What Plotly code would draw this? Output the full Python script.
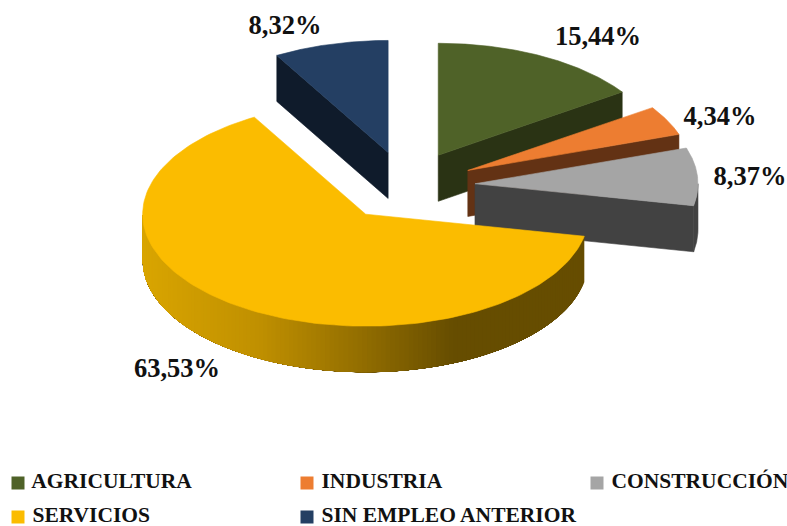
import numpy as np
import plotly.graph_objects as go

categories = ["AGRICULTURA", "INDUSTRIA", "CONSTRUCCIÓN", "SERVICIOS", "SIN EMPLEO ANTERIOR"]
values = [15.44, 4.34, 8.37, 63.53, 8.32]
top_colors = ["#4f6228", "#ed7d31", "#a5a5a5", "#fbbc00", "#243f63"]
side_colors = ["#2a3314", "#633214", "#424242", "#664d00", "#0f1b2b"]

# geometry of the projected pie (pixel space of the 787x526 page)
CX, CY, RX, RY, DEPTH, PULL = 406.0, 186.0, 223.0, 112.0, 46.0, 0.31
label_x = [598, 720, 750, 177, 285]
label_y = [38, 118, 178, 370, 27]
legend_x = [18, 307, 597, 18, 307]
legend_y = [483, 483, 483, 517, 517]
FONT = "Liberation Serif"


def arc(ax, ay, t0, t1, dy=0.0, n=80):
    t = np.linspace(t0, t1, n)
    return ax + RX * np.sin(t), ay - RY * np.cos(t) + dy


def poly(fig, xs, ys, color, lw=0.6):
    fig.add_trace(go.Scatter(x=list(xs), y=list(ys), mode="lines", fill="toself",
                             fillcolor=color, line=dict(color=color, width=lw),
                             hoverinfo="skip", showlegend=False))


def wall_color(x):
    stops_x = [140, 260, 350, 455, 590]
    r = np.interp(x, stops_x, [218, 192, 152, 102, 102])
    g = np.interp(x, stops_x, [166, 144, 114, 77, 77])
    return f"rgb({int(r)},{int(g)},0)"


fig = go.Figure()
total = sum(values)
edges = np.concatenate([[0], np.cumsum(values)]) / total * 2 * np.pi

# painter's order: back slices first, the large front slice last
for i in [4, 0, 1, 2, 3]:
    t0, t1 = edges[i], edges[i + 1]
    mid = (t0 + t1) / 2
    ax = CX + PULL * RX * np.sin(mid)
    ay = CY - PULL * RY * np.cos(mid)
    # radial cut faces that look towards the viewer
    for t, visible in ((t0, np.sin(t0) < 0), (t1, np.sin(t1) > 0)):
        if not visible or (i == 3):
            continue
        ex, ey = ax + RX * np.sin(t), ay - RY * np.cos(t)
        poly(fig, [ax, ex, ex, ax, ax], [ay, ey, ey + DEPTH, ay + DEPTH, ay], side_colors[i])
    # outer wall (front half of the ellipse only)
    w0, w1 = max(t0, np.pi / 2), min(t1, 3 * np.pi / 2)
    if w1 > w0:
        if i == 3:
            # strips are painted from the dark end, each one running on under the next
            steps = np.linspace(w0, w1, 141)
            for a, b in zip(steps[:-1], steps[1:]):
                xt, yt = arc(ax, ay, a, w1, n=60)
                xb, yb = arc(ax, ay, w1, a, dy=DEPTH, n=60)
                poly(fig, np.r_[xt, xb, xt[0]], np.r_[yt, yb, yt[0]],
                     wall_color(ax + RX * np.sin((a + b) / 2)), lw=0)
        else:
            xt, yt = arc(ax, ay, w0, w1)
            xb, yb = arc(ax, ay, w1, w0, dy=DEPTH)
            poly(fig, np.r_[xt, xb, xt[0]], np.r_[yt, yb, yt[0]], side_colors[i])
    # top surface
    xt, yt = arc(ax, ay, t0, t1, n=160)
    poly(fig, np.r_[ax, xt, ax], np.r_[ay, yt, ay], top_colors[i])

# value labels
labels = [f"{v:.2f}".replace(".", ",") + "%" for v in values]
fig.add_trace(go.Scatter(x=label_x, y=label_y, mode="text", text=labels,
                         textposition="middle center",
                         textfont=dict(family=FONT, size=26.5, color="#111111", weight="bold"),
                         hoverinfo="skip", showlegend=False))

# legend
for name, col, lx, ly in zip(categories, top_colors, legend_x, legend_y):
    fig.add_trace(go.Scatter(x=[lx], y=[ly], mode="markers+text", name=name,
                             text=[" " + name], textposition="middle right",
                             marker=dict(symbol="square", size=13, color=col),
                             textfont=dict(family=FONT, size=21.5, color="#111111", weight="bold"),
                             hoverinfo="skip", showlegend=False))

fig.update_layout(
    width=787, height=526, margin=dict(l=0, r=0, t=0, b=0),
    paper_bgcolor="white", plot_bgcolor="white", showlegend=False,
    xaxis=dict(range=[0, 787], visible=False, fixedrange=True),
    yaxis=dict(range=[526, 0], visible=False, fixedrange=True),
)
fig.write_html("out.html", config=dict(displayModeBar=False),
               post_script="document.body.style.margin='0';document.body.style.overflow='hidden';")
